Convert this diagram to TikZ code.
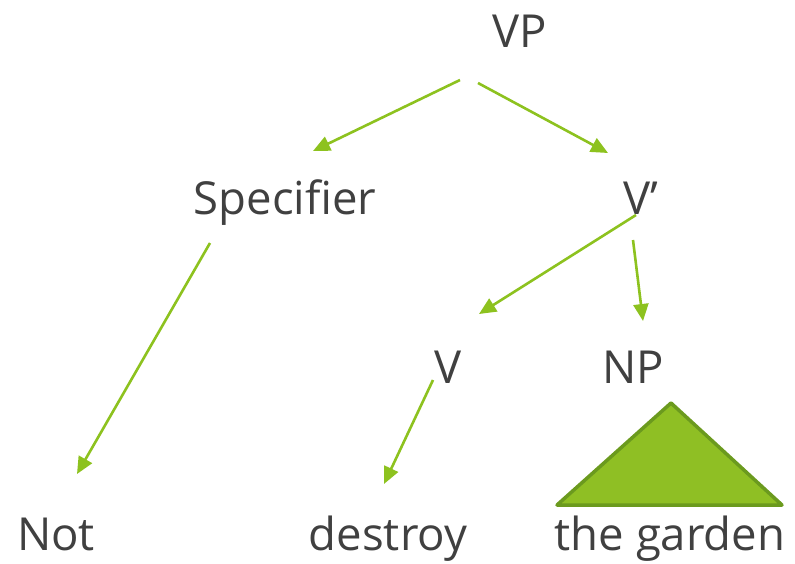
\documentclass[tikz,border=0pt]{standalone}
\usepackage{fontspec}
\setmainfont{Open Sans}
\usetikzlibrary{arrows.meta}
\definecolor{txt}{HTML}{404040}
\definecolor{lgreen}{HTML}{8DC21F}
\definecolor{tfill}{HTML}{8FBF24}
\definecolor{tedge}{HTML}{6B9A1E}
\begin{document}
\begin{tikzpicture}[x=1pt,y=-1pt,
  lbl/.style={anchor=base,inner sep=0pt,text=txt,font=\fontsize{45.5}{52}\selectfont},
  arr/.style={draw=lgreen,line width=2.6pt,-{Triangle[length=17pt,width=15pt]}}]
\useasboundingbox (0,0) rectangle (795,563);
\node[lbl] (VP) at (520,47) {VP};
\node[lbl] (Spec) at (285,214) {Specifier};
\node[lbl] (Vbar) at (641,214) {V’};
\node[lbl] (V) at (448,383) {V};
\node[lbl] (NP) at (633,383) {NP};
\node[lbl] (Not) at (56,550) {Not};
\node[lbl] (destroy) at (388,550) {destroy};
\node[lbl] (garden) at (670,550) {the garden};
\coordinate (vps1) at (460,80);
\coordinate (spe1) at (313,151);
\coordinate (vps2) at (478,83);
\coordinate (vbe1) at (608,153);
\coordinate (sps) at (210,243);
\coordinate (note) at (77,474);
\coordinate (vbs1) at (636,215);
\coordinate (ve) at (479,314);
\coordinate (vbs2) at (633,240);
\coordinate (npe) at (643,321);
\coordinate (vs) at (433,380);
\coordinate (de) at (384,484);
\coordinate (tA) at (671,403);
\coordinate (tL) at (557,505);
\coordinate (tR) at (782,505);
\draw[arr] (vps1) -- (spe1);
\draw[arr] (vps2) -- (vbe1);
\draw[arr] (sps) -- (note);
\draw[arr] (vbs1) -- (ve);
\draw[arr] (vbs2) -- (npe);
\draw[arr] (vs) -- (de);
\filldraw[fill=tfill,draw=tedge,line width=3.5pt,line join=round] (tA) -- (tL) -- (tR) -- cycle;
\end{tikzpicture}
\end{document}
